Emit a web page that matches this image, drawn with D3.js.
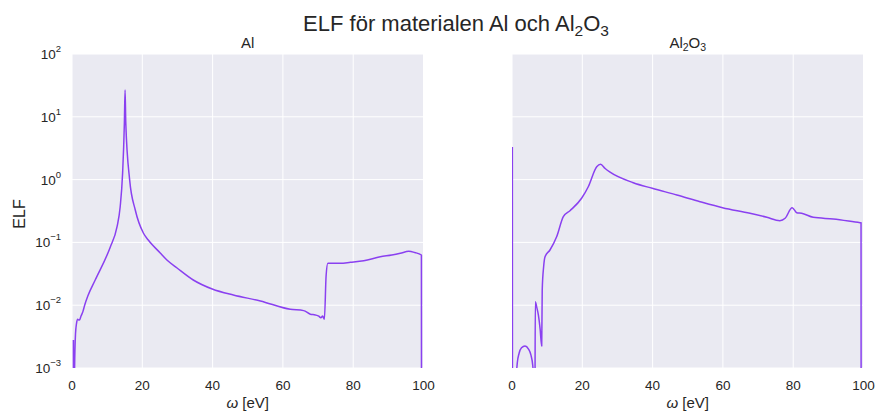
<!DOCTYPE html>
<html>
<head>
<meta charset="utf-8">
<script src="https://cdn.jsdelivr.net/npm/d3@7"></script>
<style>
  html, body { margin: 0; padding: 0; background: #ffffff; }
  svg { display: block; font-family: "Liberation Sans", Arial, sans-serif; }
</style>
</head>
<body>
<svg id="chart" width="879" height="414"></svg>
<script>
// Energy-loss function of aluminium
const alEnergy = [0.4, 0.45, 0.74, 1.0, 1.3, 1.6, 1.9, 2.2, 2.6, 3.1, 3.6, 4.5, 6.6, 10.9, 12.8, 13.7, 14.4, 14.9, 15.1, 15.3,
  16.4, 18.0, 20.3, 21.7, 25.1, 27.0, 29.9, 34.5, 39.9, 45.9, 53.6, 62.1, 65.9, 67.8, 69.2, 70.2, 70.8, 71.3, 71.8,
  72.3, 72.8, 73.3, 76.3, 79.2, 83.0, 87.7, 91.0, 93.4, 95.8, 97.5, 99.4, 99.45];
const alElf = [0.0028, 0.00001, 0.001, 0.0035, 0.0052, 0.0060, 0.0058, 0.0059, 0.0068, 0.0079, 0.0100, 0.0140, 0.0252, 0.0846, 0.176, 0.366, 1.27, 7.96, 26.7, 8.0,
  0.99, 0.328, 0.141, 0.109, 0.0678, 0.0525, 0.0391, 0.0252, 0.0181, 0.0145, 0.0117, 0.0086, 0.0082, 0.0072, 0.0070, 0.0067, 0.0063, 0.0067, 0.0060,
  0.030, 0.0465, 0.0465, 0.0465, 0.0482, 0.051, 0.059, 0.063, 0.067, 0.072, 0.069, 0.063, 0.000001];

// Energy-loss function of aluminium oxide
const al2o3Energy = [0.1, 0.15, 1.2, 1.5, 2.0, 2.7, 3.7, 4.7, 5.4, 5.9, 6.3, 6.5, 6.63, 7.0, 7.5, 8.0, 8.45, 8.6, 9.0, 9.4,
  10.8, 12.7, 14.6, 16.5, 19.8, 21.7, 24.1, 25.2, 26.5, 27.9, 34.5, 39.9, 46.9, 53.5, 59.9, 67.7, 72.5, 76.2, 77.7,
  79.7, 81.0, 82.4, 85.7, 91.4, 99.0, 99.3, 99.35];
const al2o3Elf = [3.3, 0.000001, 0.0007, 0.0012, 0.0017, 0.0021, 0.00224, 0.0020, 0.0016, 0.0011, 0.0005, 0.0001, 0.0114, 0.0095, 0.0070, 0.0042, 0.00224, 0.0175, 0.041, 0.059,
  0.0757, 0.123, 0.257, 0.32, 0.504, 0.77, 1.60, 1.75, 1.5, 1.31, 0.893, 0.727, 0.569, 0.445, 0.357, 0.291, 0.251, 0.222, 0.242,
  0.357, 0.297, 0.291, 0.251, 0.236, 0.206, 0.205, 0.000001];

const xTicks = [0, 20, 40, 60, 80, 100];
const yExponents = [-3, -2, -1, 0, 1, 2];

const lineColor = "#8a40f0";
const textColor = "#262626";
const svg = d3.select("#chart");

const plotTop = 54, plotBottom = 368;
const panels = [
  { id: "al", left: 72, right: 423.5, energy: alEnergy, elf: alElf, title: [["Al", null]], yLabels: true },
  { id: "al2o3", left: 512, right: 863.5, energy: al2o3Energy, elf: al2o3Elf, title: [["Al", null], ["2", "sub"], ["O", null], ["3", "sub"]], yLabels: false }
];

const y = d3.scaleLog().domain([1e-3, 1e2]).range([plotBottom, plotTop]);

// Figure title with subscripts
const title = svg.append("text")
  .attr("x", 456).attr("y", 31)
  .attr("text-anchor", "middle")
  .attr("font-size", 22)
  .attr("fill", textColor);
title.append("tspan").text("ELF för materialen Al och Al");
title.append("tspan").text("2").attr("font-size", 15.5).attr("dy", 4.5);
title.append("tspan").text("O").attr("dy", -4.5);
title.append("tspan").text("3").attr("font-size", 15.5).attr("dy", 4.5);

panels.forEach(p => {
  const x = d3.scaleLinear().domain([0, 100]).range([p.left, p.right]);
  const g = svg.append("g");

  g.append("rect")
    .attr("x", p.left).attr("y", plotTop)
    .attr("width", p.right - p.left).attr("height", plotBottom - plotTop)
    .attr("fill", "#eaeaf2");

  // grid
  g.selectAll(".vgrid").data(xTicks).join("line")
    .attr("x1", d => x(d)).attr("x2", d => x(d))
    .attr("y1", plotTop).attr("y2", plotBottom)
    .attr("stroke", "#ffffff").attr("stroke-width", 1);
  g.selectAll(".hgrid").data(yExponents).join("line")
    .attr("x1", p.left).attr("x2", p.right)
    .attr("y1", d => y(Math.pow(10, d))).attr("y2", d => y(Math.pow(10, d)))
    .attr("stroke", "#ffffff").attr("stroke-width", 1);

  // curve, clipped to the plot area
  g.append("clipPath").attr("id", "clip-" + p.id)
    .append("rect")
    .attr("x", p.left).attr("y", plotTop)
    .attr("width", p.right - p.left).attr("height", plotBottom - plotTop);

  const pts = p.energy.map((e, i) => [e, p.elf[i]]);
  const line = d3.line()
    .x(d => x(d[0]))
    .y(d => y(d[1]))
    .curve(d3.curveMonotoneX);
  g.append("path")
    .attr("clip-path", `url(#clip-${p.id})`)
    .attr("d", line(pts))
    .attr("fill", "none")
    .attr("stroke", lineColor)
    .attr("stroke-width", 1.5)
    .attr("stroke-linejoin", "round");

  // x tick labels
  g.selectAll(".xtl").data(xTicks).join("text")
    .attr("x", d => x(d)).attr("y", plotBottom + 22)
    .attr("text-anchor", "middle")
    .attr("font-size", 13.5)
    .attr("fill", textColor)
    .text(d => d);

  // x label
  const xl = g.append("text")
    .attr("x", (p.left + p.right) / 2).attr("y", plotBottom + 40)
    .attr("text-anchor", "middle")
    .attr("font-size", 15)
    .attr("fill", textColor);
  xl.append("tspan").text("ω").attr("font-style", "italic");
  xl.append("tspan").text(" [eV]");

  // panel title
  const pt = g.append("text")
    .attr("x", (p.left + p.right) / 2).attr("y", plotTop - 6)
    .attr("text-anchor", "middle")
    .attr("font-size", 15)
    .attr("fill", textColor);
  p.title.forEach(([txt, kind], i) => {
    const t = pt.append("tspan").text(txt);
    if (kind === "sub") t.attr("font-size", 10.5).attr("dy", 3);
    else if (i > 0) t.attr("dy", -3);
  });

  if (p.yLabels) {
    yExponents.forEach(ex => {
      const yy = y(Math.pow(10, ex));
      const t = g.append("text")
        .attr("x", p.left - 11).attr("y", yy + 5)
        .attr("text-anchor", "end")
        .attr("font-size", 13.5)
        .attr("fill", textColor);
      t.append("tspan").text("10");
      t.append("tspan").text(ex < 0 ? "\u2212" + Math.abs(ex) : String(ex))
        .attr("font-size", 9.5).attr("dy", -7);
    });
    svg.append("text")
      .attr("transform", `translate(25,214) rotate(-90)`)
      .attr("text-anchor", "middle")
      .attr("font-size", 16)
      .attr("fill", textColor)
      .text("ELF");
  }
});
</script>
</body>
</html>
